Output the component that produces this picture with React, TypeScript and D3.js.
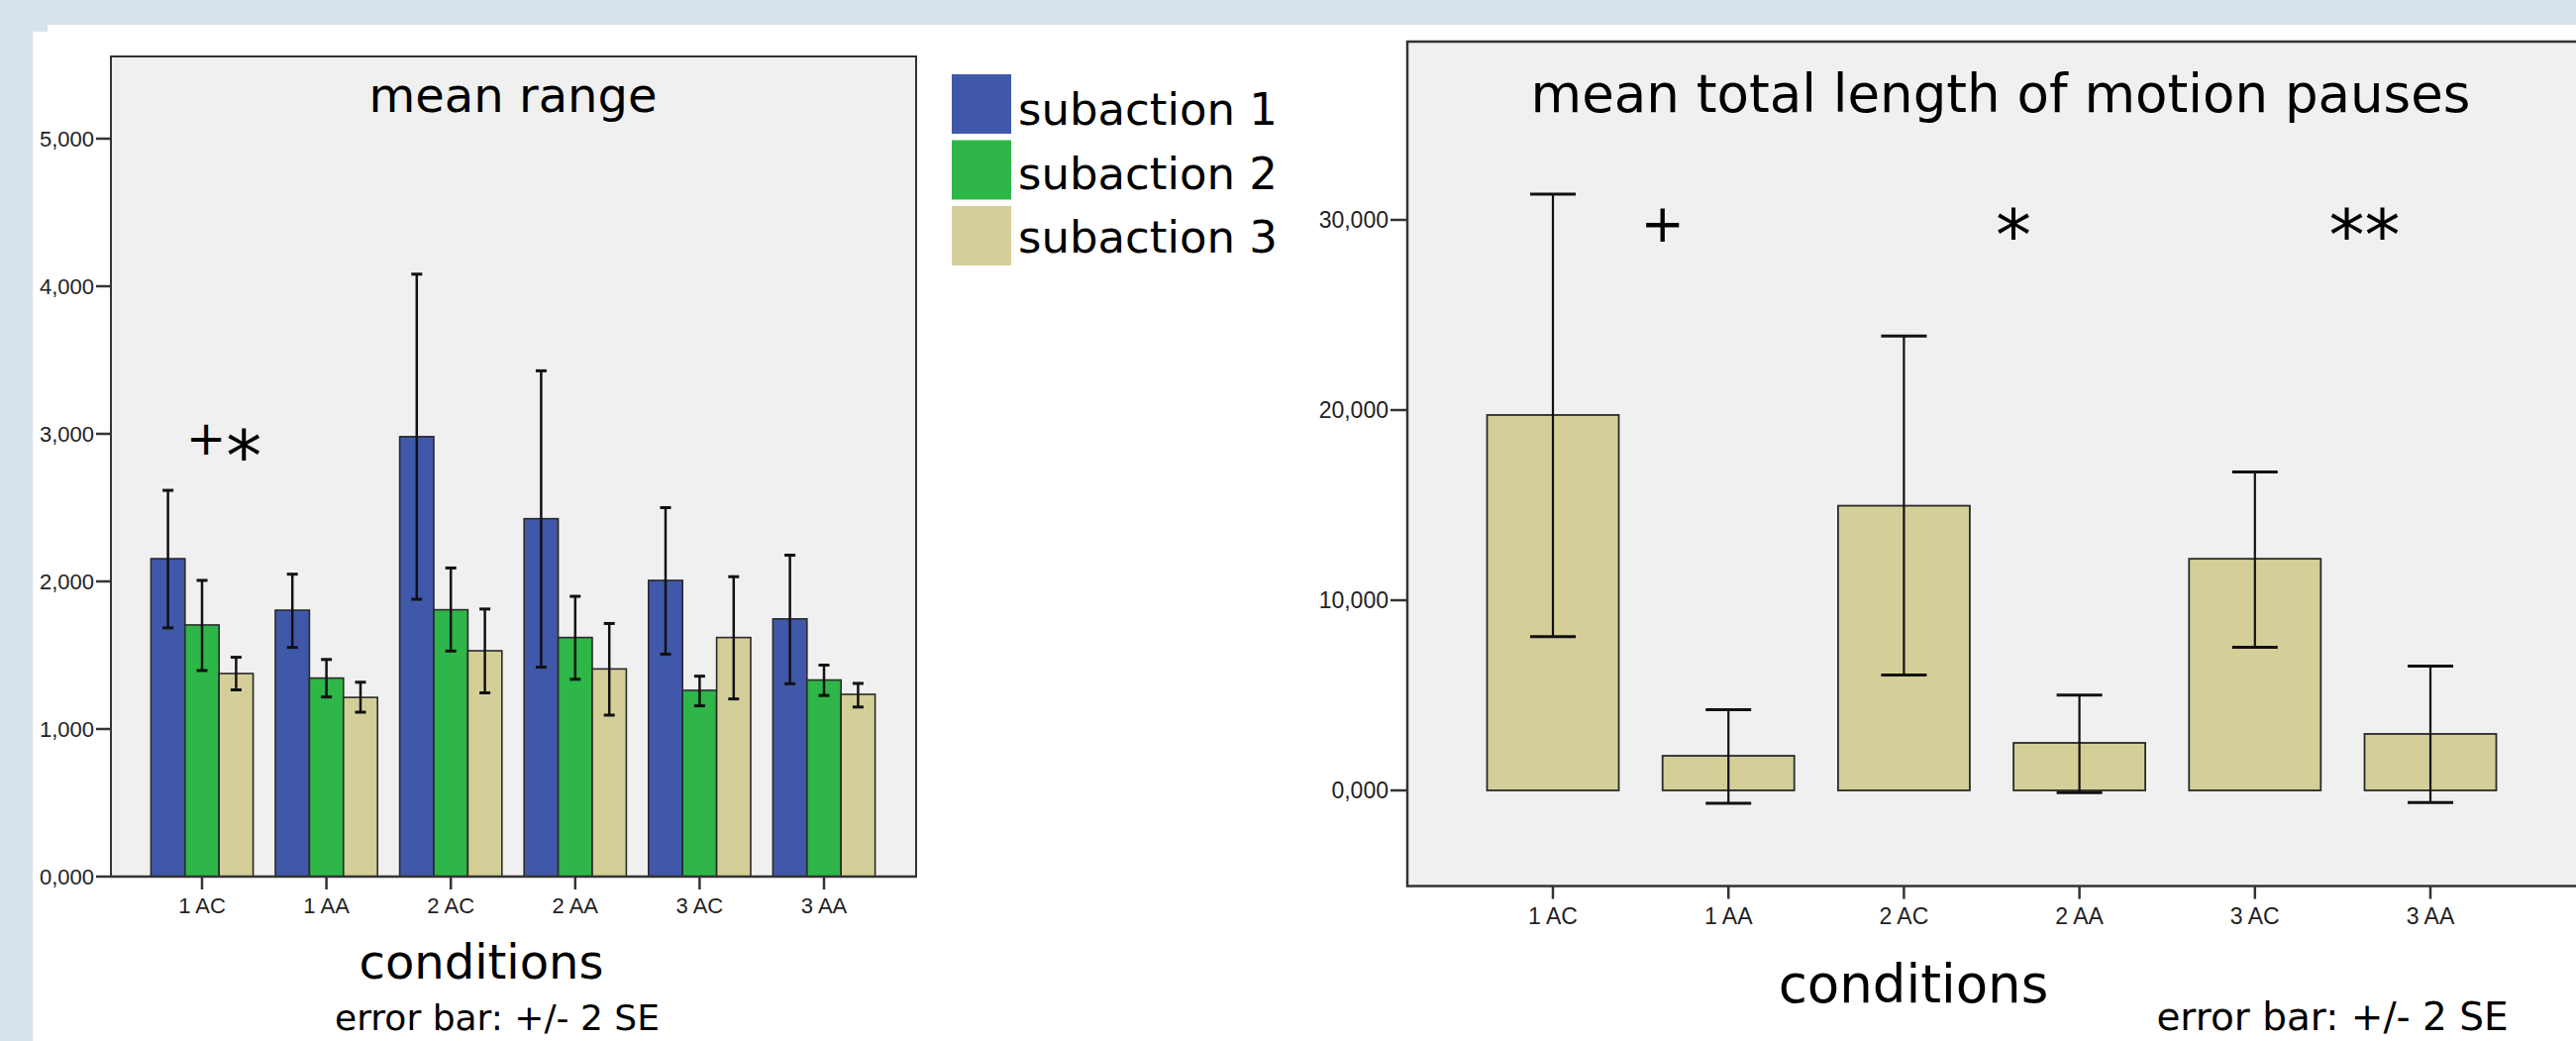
import React, { useEffect } from "react";
import * as d3 from "d3";

// categories
const CONDITIONS = ["1 AC", "1 AA", "2 AC", "2 AA", "3 AC", "3 AA"];
const SUBACTIONS = ["subaction 1", "subaction 2", "subaction 3"];
const SUB_COLORS = ["#3F58AA", "#2EB648", "#D4CF98"];

// mean range, per subaction (mean, -2SE, +2SE)
const RANGE_S1 = [2.154, 1.805, 2.981, 2.425, 2.007, 1.746];
const RANGE_S1_LO = [1.685, 1.553, 1.879, 1.419, 1.507, 1.307];
const RANGE_S1_HI = [2.617, 2.049, 4.082, 3.427, 2.5, 2.178];
const RANGE_S2 = [1.705, 1.345, 1.808, 1.62, 1.262, 1.332];
const RANGE_S2_LO = [1.396, 1.217, 1.528, 1.337, 1.157, 1.227];
const RANGE_S2_HI = [2.007, 1.471, 2.091, 1.899, 1.358, 1.433];
const RANGE_S3 = [1.376, 1.214, 1.53, 1.407, 1.62, 1.235];
const RANGE_S3_LO = [1.265, 1.114, 1.245, 1.094, 1.204, 1.149];
const RANGE_S3_HI = [1.486, 1.317, 1.813, 1.715, 2.032, 1.309];

// mean total length of motion pauses
const PAUSE_MEAN = [19.74, 1.82, 14.97, 2.5, 12.18, 2.97];
const PAUSE_LO = [8.08, -0.68, 6.07, -0.12, 7.53, -0.64];
const PAUSE_HI = [31.35, 4.25, 23.89, 5.01, 16.75, 6.53];

const RANGE_TICKS = [0, 1, 2, 3, 4, 5];
const PAUSE_TICKS = [0, 10, 20, 30];

const fmt = d3
	.formatLocale({ decimal: ",", thousands: ".", grouping: [3], currency: ["", ""] })
	.format(".3f");

const TITLE_FONT = "'DejaVu Sans', sans-serif";
const TICK_FONT = "'Liberation Sans', Arial, sans-serif";

function LeftChart() {
	const frame = { left: 112, top: 57, right: 925, bottom: 885 };
	const y = d3.scaleLinear().domain([0, 5]).range([885, 140]);
	const x = d3.scalePoint().domain(CONDITIONS).range([204, 832]);
	const sub = d3.scaleBand<number>().domain([0, 1, 2]).range([-51.6, 51.6]);

	const series = [
		[RANGE_S1, RANGE_S1_LO, RANGE_S1_HI],
		[RANGE_S2, RANGE_S2_LO, RANGE_S2_HI],
		[RANGE_S3, RANGE_S3_LO, RANGE_S3_HI]
	];
	const rows = CONDITIONS.flatMap((c, i) =>
		series.map((s, k) => ({ c, k, mean: s[0][i], lo: s[1][i], hi: s[2][i] }))
	);

	return (
		<g>
			<rect
				x={frame.left}
				y={frame.top}
				width={frame.right - frame.left}
				height={frame.bottom - frame.top}
				fill="#F0F0F0"
				stroke="#333"
				strokeWidth={2}
			/>
			<text x={518} y={113} textAnchor="middle" fontFamily={TITLE_FONT} fontSize={48}>
				mean range
			</text>
			{rows.map((d, i) => {
				const x0 = (x(d.c) as number) + (sub(d.k) as number);
				return (
					<rect
						key={"b" + i}
						x={x0}
						y={y(d.mean)}
						width={sub.bandwidth()}
						height={y(0) - y(d.mean)}
						fill={SUB_COLORS[d.k]}
						stroke="#2a2a2a"
						strokeWidth={1.6}
					/>
				);
			})}
			{rows.map((d, i) => {
				const cx = (x(d.c) as number) + (sub(d.k) as number) + sub.bandwidth() / 2;
				return (
					<g key={"e" + i} stroke="#111">
						<line x1={cx} x2={cx} y1={y(d.hi)} y2={y(d.lo)} strokeWidth={2.5} />
						<line x1={cx - 5.5} x2={cx + 5.5} y1={y(d.hi)} y2={y(d.hi)} strokeWidth={3} />
						<line x1={cx - 5.5} x2={cx + 5.5} y1={y(d.lo)} y2={y(d.lo)} strokeWidth={3} />
					</g>
				);
			})}
			<line x1={frame.left} x2={frame.right} y1={y(0)} y2={y(0)} stroke="#333" strokeWidth={2.5} />
			{RANGE_TICKS.map((t) => (
				<g key={"yt" + t}>
					<line x1={97} x2={frame.left} y1={y(t)} y2={y(t)} stroke="#333" strokeWidth={2.5} />
					<text
						x={95}
						y={y(t)}
						dy="0.36em"
						textAnchor="end"
						fontFamily={TICK_FONT}
						fontSize={22}
						fill="#222"
					>
						{fmt(t)}
					</text>
				</g>
			))}
			{CONDITIONS.map((c) => (
				<g key={"xt" + c}>
					<line x1={x(c)} x2={x(c)} y1={y(0)} y2={y(0) + 13} stroke="#333" strokeWidth={2.5} />
					<text x={x(c)} y={922} textAnchor="middle" fontFamily={TICK_FONT} fontSize={22} fill="#222">
						{c}
					</text>
				</g>
			))}
			<text x={(x("1 AC") as number) - 16} y={y(2.86)} fontFamily={TITLE_FONT} fontSize={48}>
				+
				<tspan fontSize={72} dy={26}>
					*
				</tspan>
			</text>
			<text x={486} y={988} textAnchor="middle" fontFamily={TITLE_FONT} fontSize={48}>
				conditions
			</text>
			<text x={502} y={1040} textAnchor="middle" fontFamily={TITLE_FONT} fontSize={36}>
				error bar: +/- 2 SE
			</text>
			{SUBACTIONS.map((s, k) => (
				<g key={s}>
					<rect x={961} y={75 + k * 66.5} width={60} height={60} fill={SUB_COLORS[k]} />
					<text x={1028} y={126 + k * 64.5} fontFamily={TITLE_FONT} fontSize={45}>
						{s}
					</text>
				</g>
			))}
		</g>
	);
}

function RightChart() {
	const frame = { left: 1421, top: 42, right: 2640 };
	const y = d3.scaleLinear().domain([0, 30]).range([798, 222]);
	const x = d3.scalePoint().domain(CONDITIONS).range([1568, 2454]);
	const bw = 133;
	const bottom = y(-5.03);

	const rows = CONDITIONS.map((c, i) => ({ c, mean: PAUSE_MEAN[i], lo: PAUSE_LO[i], hi: PAUSE_HI[i] }));
	const marks = [
		{ after: 0, text: "+" },
		{ after: 2, text: "*" },
		{ after: 4, text: "**" }
	];

	return (
		<g>
			<rect
				x={frame.left}
				y={frame.top}
				width={frame.right - frame.left}
				height={bottom - frame.top}
				fill="#F0F0F0"
				stroke="#333"
				strokeWidth={2.5}
			/>
			<text x={2020} y={113} textAnchor="middle" fontFamily={TITLE_FONT} fontSize={53}>
				mean total length of motion pauses
			</text>
			{rows.map((d) => (
				<rect
					key={"b" + d.c}
					x={(x(d.c) as number) - bw / 2}
					y={y(d.mean)}
					width={bw}
					height={y(0) - y(d.mean)}
					fill={SUB_COLORS[2]}
					stroke="#2a2a2a"
					strokeWidth={1.8}
				/>
			))}
			{rows.map((d) => {
				const cx = x(d.c) as number;
				return (
					<g key={"e" + d.c} stroke="#111">
						<line x1={cx} x2={cx} y1={y(d.hi)} y2={y(d.lo)} strokeWidth={2.2} />
						<line x1={cx - 23} x2={cx + 23} y1={y(d.hi)} y2={y(d.hi)} strokeWidth={3} />
						<line x1={cx - 23} x2={cx + 23} y1={y(d.lo)} y2={y(d.lo)} strokeWidth={3} />
					</g>
				);
			})}
			{PAUSE_TICKS.map((t) => (
				<g key={"yt" + t}>
					<line x1={1404} x2={frame.left} y1={y(t)} y2={y(t)} stroke="#333" strokeWidth={2.5} />
					<text
						x={1402}
						y={y(t)}
						dy="0.36em"
						textAnchor="end"
						fontFamily={TICK_FONT}
						fontSize={23}
						fill="#222"
					>
						{fmt(t)}
					</text>
				</g>
			))}
			{CONDITIONS.map((c) => (
				<g key={"xt" + c}>
					<line x1={x(c)} x2={x(c)} y1={bottom} y2={bottom + 13} stroke="#333" strokeWidth={2.5} />
					<text x={x(c)} y={933} textAnchor="middle" fontFamily={TICK_FONT} fontSize={23} fill="#222">
						{c}
					</text>
				</g>
			))}
			{marks.map((m) => {
				const mx = ((x(CONDITIONS[m.after]) as number) + (x(CONDITIONS[m.after + 1]) as number)) / 2 + 22;
				return m.text === "+" ? (
					<text key={m.text} x={mx} y={y(28.85)} textAnchor="middle" fontFamily={TITLE_FONT} fontSize={53}>
						{m.text}
					</text>
				) : (
					<text key={m.text} x={mx} y={y(27.93)} textAnchor="middle" fontFamily={TITLE_FONT} fontSize={72}>
						{m.text}
					</text>
				);
			})}
			<text x={1932} y={1012} textAnchor="middle" fontFamily={TITLE_FONT} fontSize={53}>
				conditions
			</text>
			<text x={2355} y={1040} textAnchor="middle" fontFamily={TITLE_FONT} fontSize={39}>
				error bar: +/- 2 SE
			</text>
		</g>
	);
}

export default function App() {
	useEffect(() => {
		document.body.style.margin = "0";
		document.body.style.overflow = "hidden";
	}, []);

	return (
		<svg width={2601} height={1051} style={{ display: "block" }}>
			<rect width={2601} height={1051} fill="#D8E2EA" />
			<rect x={25} y={25} width={2576} height={1026} fill="#FFFFFF" />
			<rect x={33} y={32} width={2568} height={1019} fill="#FFFFFF" />
			<rect x={25} y={25} width={8} height={7} fill="#FFFFFF" />
			<rect x={25} y={32} width={8} height={1019} fill="#D8E2EA" />
			<rect x={25} y={25} width={23} height={7} fill="#D8E2EA" />
			<LeftChart />
			<RightChart />
		</svg>
	);
}
